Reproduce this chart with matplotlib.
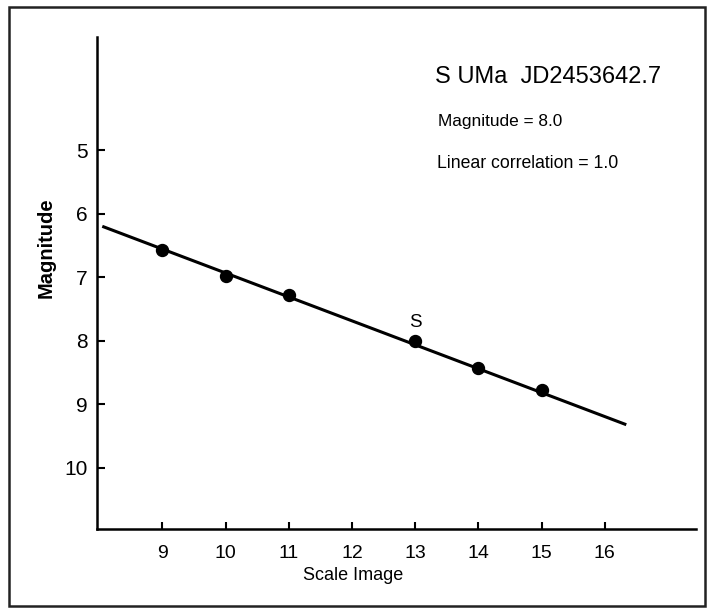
import matplotlib
matplotlib.use("Agg")
import matplotlib.pyplot as plt
from matplotlib.patches import Rectangle

plt.rcParams['font.family'] = ['Liberation Sans', 'DejaVu Sans']

# Data
scale_image = [9, 10, 11, 13, 14, 15]
magnitude = [6.58, 6.98, 7.28, 8.0, 8.43, 8.77]
fit_x = [8.05, 16.34]
fit_y = [6.20, 9.32]
x_ticks = [9, 10, 11, 12, 13, 14, 15, 16]
y_ticks = [5, 6, 7, 8, 9, 10]
star_label = "S"
star_x, star_y = 13, 7.78
title_text = "S UMa  JD2453642.7"
mag_text = "Magnitude = 8.0"
corr_text = "Linear correlation = 1.0"

W, H = 713, 614
fig = plt.figure(figsize=(W / 100, H / 100), dpi=100)
fig.patch.set_facecolor('white')

def fx(px):
    return px / W

def fy(py):
    return 1 - py / H

ax = fig.add_axes([fx(96.9), fy(528.6), fx(695.8) - fx(96.9), fy(37.2) - fy(528.6)])

ax.plot(fit_x, fit_y, color='black', lw=2.2, solid_capstyle='butt', zorder=2)
ax.plot(scale_image, magnitude, 'o', color='black', markersize=8.6, zorder=3)
ax.text(star_x, star_y, star_label, ha='center', va='baseline', fontsize=13.5)

ax.set_xlim(7.965, 17.44)
ax.set_ylim(10.954, 3.226)
ax.set_xticks(x_ticks)
ax.set_yticks(y_ticks)
ax.tick_params(axis='x', direction='in', length=5, width=1.5, labelsize=14, pad=11.8)
ax.tick_params(axis='y', direction='in', length=6, width=1.5, labelsize=15, pad=6.5)

for s in ['top', 'right']:
    ax.spines[s].set_visible(False)
for s in ['left', 'bottom']:
    ax.spines[s].set_linewidth(1.8)

ax.set_xlabel('Scale Image', fontsize=13)
ax.xaxis.set_label_coords(0.4276, -0.0788)
ax.set_ylabel('Magnitude', fontsize=14.5, fontweight='bold')
ax.yaxis.set_label_coords(-0.0683, 0.571)

fig.text(fx(435), fy(83.3), title_text, ha='left', va='baseline', fontsize=17)
fig.text(fx(438), fy(126), mag_text, ha='left', va='baseline', fontsize=12.4)
fig.text(fx(436.7), fy(167.7), corr_text, ha='left', va='baseline', fontsize=12.7)

frame = Rectangle((fx(9), fy(606)), fx(705) - fx(9), fy(7) - fy(606),
                  transform=fig.transFigure, fill=False, edgecolor='#222222', lw=1.8)
fig.patches.append(frame)

fig.savefig('out.png', dpi=100, facecolor='white')
